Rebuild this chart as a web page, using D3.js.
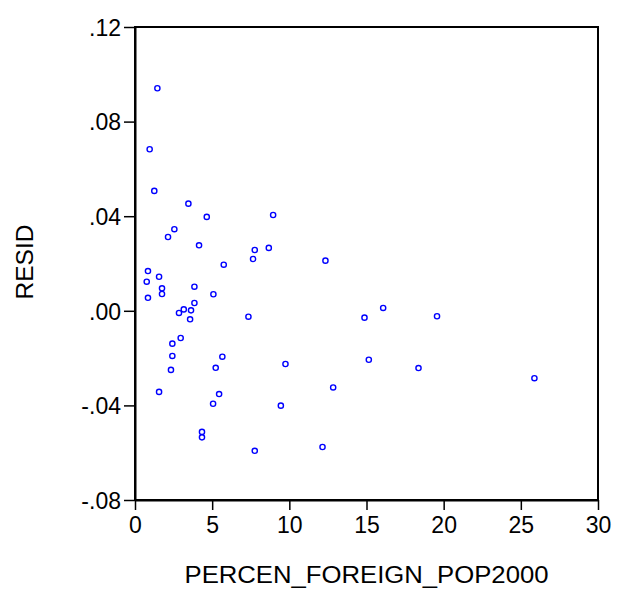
<!DOCTYPE html>
<html>
<head>
<meta charset="utf-8">
<script src="https://cdn.jsdelivr.net/npm/d3@7"></script>
<style>
  body { margin: 0; background: #fff; }
  text { font-family: Arial, "Liberation Sans", sans-serif; fill: #000; }
</style>
</head>
<body>
<svg id="chart" width="617" height="593"></svg>
<script>
// percent foreign population (x) vs residual (y)
const percenForeign = [
  1.45, 0.95, 1.25, 3.46, 4.65, 8.95, 2.55, 2.14, 4.15, 7.76,
  8.67, 7.65, 5.75, 0.84, 1.56, 0.76, 1.75, 1.75, 0.84, 3.85,
  5.08, 3.85, 3.16, 3.63, 2.85, 3.57, 7.35, 2.96, 2.42, 2.42,
  5.66, 2.33, 5.23, 9.75, 1.56, 5.45, 5.06, 9.45, 4.34, 4.34,
  7.76, 12.34, 16.08, 14.87, 19.57, 12.84, 15.15, 18.37, 25.88, 12.15
];
const resid = [
  0.0941, 0.0683, 0.0507, 0.0453, 0.0397, 0.0405, 0.0345, 0.0312, 0.0277, 0.0257,
  0.0266, 0.0219, 0.0195, 0.0168, 0.0144, 0.0123, 0.0095, 0.0071, 0.0055, 0.0102,
  0.0070, 0.0033, 0.0006, 0.0002, -0.0009, -0.0036, -0.0025, -0.0115, -0.0139, -0.0191,
  -0.0194, -0.0250, -0.0241, -0.0225, -0.0343, -0.0352, -0.0393, -0.0401, -0.0512, -0.0535,
  -0.0592, 0.0212, 0.0012, -0.0029, -0.0023, -0.0324, -0.0207, -0.0242, -0.0285, -0.0576
];
const xTicks = [0, 5, 10, 15, 20, 25, 30];
const yTicks = [-0.08, -0.04, 0, 0.04, 0.08, 0.12];
const yTickLabels = ["-.08", "-.04", ".00", ".04", ".08", ".12"];

const points = percenForeign.map((x, i) => ({ x: x, y: resid[i] }));

const plotLeft = 135, plotRight = 598, plotTop = 27, plotBottom = 500;

const xScale = d3.scaleLinear().domain([0, 30]).range([plotLeft, plotRight]);
const yScale = d3.scaleLinear().domain([-0.08, 0.12]).range([plotBottom, plotTop]);

const svg = d3.select("#chart");

// frame
svg.append("rect")
  .attr("x", plotLeft)
  .attr("y", plotTop)
  .attr("width", plotRight - plotLeft)
  .attr("height", plotBottom - plotTop)
  .attr("fill", "none")
  .attr("stroke", "#000")
  .attr("stroke-width", 2);

// x axis
const xAxis = svg.append("g")
  .attr("transform", `translate(0,${plotBottom})`)
  .call(d3.axisBottom(xScale).tickValues(xTicks).tickSize(10).tickSizeOuter(0).tickPadding(7));

// y axis
const yAxis = svg.append("g")
  .attr("transform", `translate(${plotLeft},0)`)
  .call(d3.axisLeft(yScale).tickValues(yTicks).tickSize(11).tickSizeOuter(0).tickPadding(3)
    .tickFormat((d, i) => yTickLabels[i]));

[xAxis, yAxis].forEach((ax) => {
  ax.select(".domain").attr("stroke", "#000").attr("stroke-width", 2);
  ax.selectAll(".tick line").attr("stroke", "#000").attr("stroke-width", 1.5);
  ax.selectAll(".tick text")
    .attr("fill", "#000")
    .style("font-size", "23px")
    .style("font-family", "Arial, 'Liberation Sans', sans-serif");
});
yAxis.selectAll(".tick text").attr("dy", "0.36em");

// points
svg.append("g")
  .selectAll("circle")
  .data(points)
  .enter()
  .append("circle")
  .attr("cx", (p) => xScale(p.x))
  .attr("cy", (p) => yScale(p.y))
  .attr("r", 2.6)
  .attr("fill", "#fff")
  .attr("stroke", "#0000ff")
  .attr("stroke-width", 1.4);

// axis titles
svg.append("text")
  .attr("x", (plotLeft + plotRight) / 2)
  .attr("y", 583)
  .attr("text-anchor", "middle")
  .attr("textLength", 364)
  .attr("lengthAdjust", "spacingAndGlyphs")
  .style("font-size", "23px")
  .text("PERCEN_FOREIGN_POP2000");

svg.append("text")
  .attr("transform", "translate(33,262) rotate(-90)")
  .attr("text-anchor", "middle")
  .style("font-size", "24.5px")
  .text("RESID");
</script>
</body>
</html>
